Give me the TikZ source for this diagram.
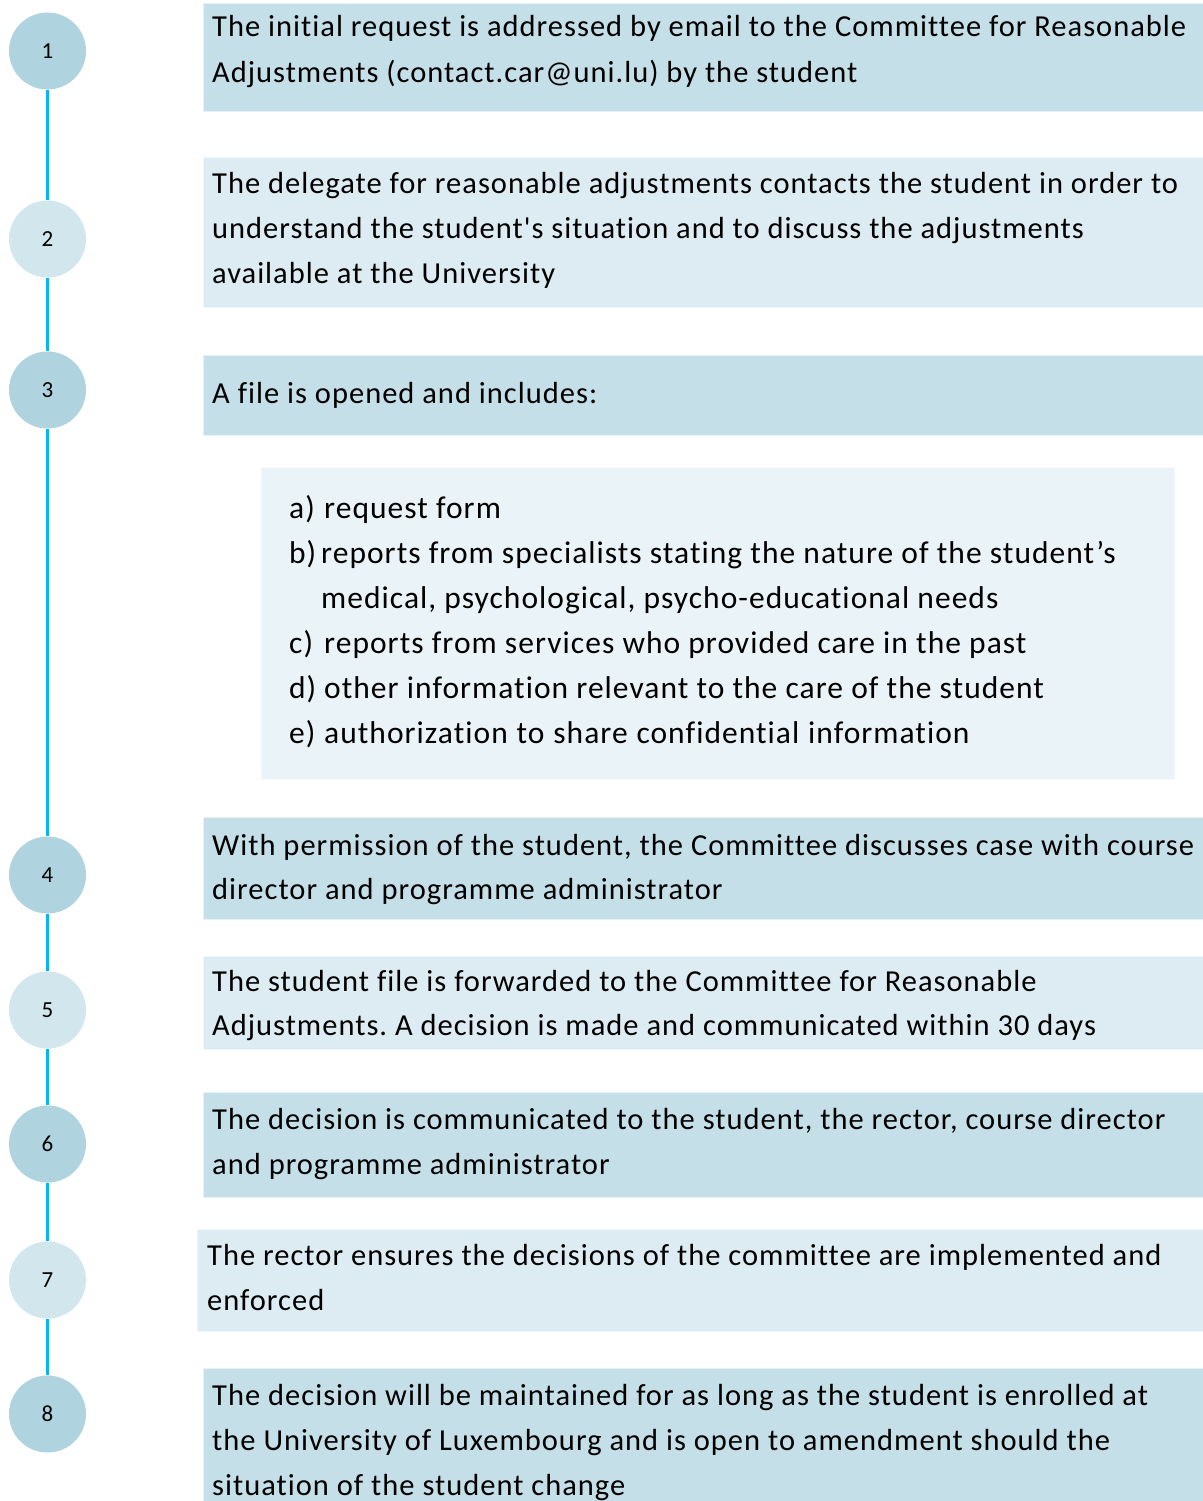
\documentclass[tikz,border=0pt]{standalone}
\usepackage{fontspec}
\setmainfont{Carlito}[LetterSpace=3.3, Ligatures={TeXOff,NoCommon}]
\begin{document}
\frenchspacing
\definecolor{stepdark}{HTML}{AFD3DF}
\definecolor{steplight}{HTML}{D2E6EE}
\definecolor{boxdark}{HTML}{C5DFE8}
\definecolor{boxlight}{HTML}{DDECF2}
\definecolor{boxpale}{HTML}{EAF3F7}
\definecolor{timeline}{HTML}{0BB4EE}
\begin{tikzpicture}[x=1pt,y=-1pt,
  stepdot/.style={circle,inner sep=0pt,minimum size=77pt,font=\fontsize{23}{27}\selectfont},
  panel/.style={rectangle,inner sep=0pt,anchor=north west,draw=white!60!#1,line width=0.8pt,fill=#1},
  ln/.style={anchor=base west,inner sep=0pt,font=\fontsize{30.5}{36}\selectfont},
  item/.style={ln,font=\fontsize{31.5}{37}\selectfont},
  link/.style={draw=timeline,line width=2.8pt}]
\useasboundingbox (0,0) rectangle (1202,1501);

% step circles
\node[stepdot,fill=stepdark]  (s1) at (47.5,51)   {1};
\node[stepdot,fill=steplight] (s2) at (47.5,239)  {2};
\node[stepdot,fill=stepdark]  (s3) at (47.5,390)  {3};
\node[stepdot,fill=stepdark]  (s4) at (47.5,875)  {4};
\node[stepdot,fill=steplight] (s5) at (47.5,1010) {5};
\node[stepdot,fill=stepdark]  (s6) at (47.5,1144) {6};
\node[stepdot,fill=steplight] (s7) at (47.5,1280) {7};
\node[stepdot,fill=stepdark]  (s8) at (47.5,1414) {8};

% timeline
\foreach \a/\b in {s1/s2,s2/s3,s3/s4,s4/s5,s5/s6,s6/s7,s7/s8}
  \draw[link] (\a.south) -- (\b.north);

% panels
\node[panel=boxdark,minimum width=1000pt,minimum height=108pt]  (b1) at (203,3) {};
\node[panel=boxlight,minimum width=1000pt,minimum height=150pt] (b2) at (203,157) {};
\node[panel=boxdark,minimum width=1000pt,minimum height=80pt]   (b3) at (203,355) {};
\node[panel=boxpale,minimum width=913pt,minimum height=312pt]   (bl) at (261,467) {};
\node[panel=boxdark,minimum width=1000pt,minimum height=102pt]  (b4) at (203,817) {};
\node[panel=boxlight,minimum width=1000pt,minimum height=93pt]  (b5) at (203,956) {};
\node[panel=boxdark,minimum width=1000pt,minimum height=105pt]  (b6) at (203,1092) {};
\node[panel=boxlight,minimum width=1006pt,minimum height=102pt] (b7) at (197,1229) {};
\node[panel=boxdark,minimum width=1000pt,minimum height=140pt]  (b8) at (203,1368) {};

% texts
\node[ln] (t1a) at (212,37) {The initial request is addressed by email to the Committee for Reasonable};
\node[ln] (t1b) at (212,83) {Adjustments (contact.car@uni.lu) by the student};

\node[ln] (t2a) at (212,193) {The delegate for reasonable adjustments contacts the student in order to};
\node[ln] (t2b) at (212,238) {understand the student's situation and to discuss the adjustments};
\node[ln] (t2c) at (212,283) {available at the University};

\node[ln] (t3a) at (212,403) {A file is opened and includes:};

% list of file contents
\node[item] (la) at (289,518) {a)};
\node[item] (lat) at (324,518) {request form};
\node[item] (lb) at (289,563) {b)};
\node[item] (lbt) at (321,563) {reports from specialists stating the nature of the student’s};
\node[item] (lbu) at (321,608) {medical, psychological, psycho-educational needs};
\node[item] (lc) at (289,653) {c)};
\node[item] (lct) at (324,653) {reports from services who provided care in the past};
\node[item] (ld) at (289,698) {d)};
\node[item] (ldt) at (324,698) {other information relevant to the care of the student};
\node[item] (le) at (289,743) {e)};
\node[item] (let) at (324,743) {authorization\hspace{0.28em}to\hspace{0.28em}share\hspace{0.28em}confidential\hspace{0.28em}information};

\node[ln] (t4a) at (212,855) {With permission of the student, the Committee discusses case with course};
\node[ln] (t4b) at (212,899) {director and programme administrator};

\node[ln] (t5a) at (212,991) {The student file is forwarded to the Committee for Reasonable};
\node[ln] (t5b) at (212,1035) {Adjustments. A decision is made and communicated within 30 days};

\node[ln] (t6a) at (212,1129) {The decision is communicated to the student, the rector, course director};
\node[ln] (t6b) at (212,1174) {and programme administrator};

\node[ln] (t7a) at (207,1265) {The rector ensures the decisions of the committee are implemented and};
\node[ln] (t7b) at (207,1310) {enforced};

\node[ln] (t8a) at (212,1405) {The decision will be maintained for as long as the student is enrolled at};
\node[ln] (t8b) at (212,1450) {the University of Luxembourg and is open to amendment should the};
\node[ln] (t8c) at (212,1495) {situation of the student change};
\end{tikzpicture}
\end{document}
